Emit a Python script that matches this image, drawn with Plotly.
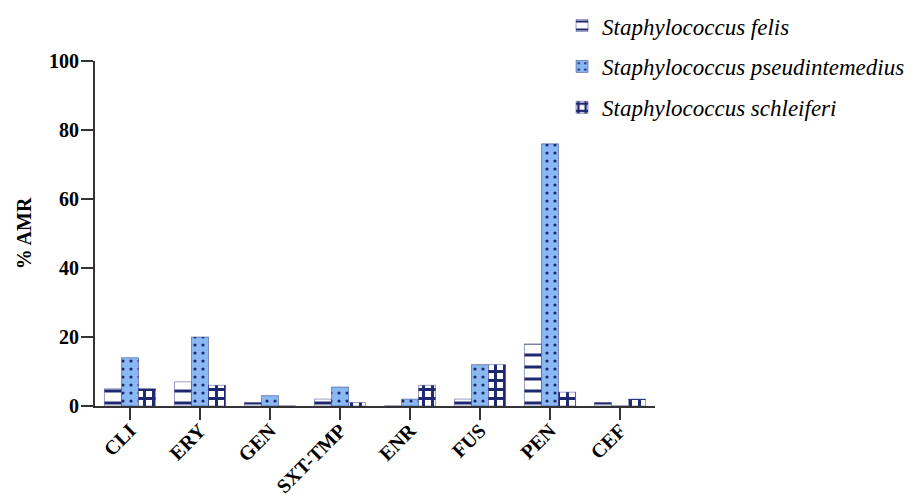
import plotly.graph_objects as go

categories = ["CLI", "ERY", "GEN", "SXT-TMP", "ENR", "FUS", "PEN", "CEF"]
felis = [5, 7, 1, 2, 0, 2, 18, 1]
pseudintermedius = [14, 20, 3, 5.5, 2, 12, 76, 0]
schleiferi = [5, 6, 0, 1, 6, 12, 4, 2]
series_names = ["Staphylococcus felis", "Staphylococcus pseudintemedius", "Staphylococcus schleiferi"]

NAVY = "#1e2870"
LIGHT = "#8ab8f2"
EDGE = "rgba(30,40,112,0.45)"
SERIF = "Liberation Serif"

fig = go.Figure()
fig.add_trace(go.Bar(
    x=categories, y=felis, name=series_names[0], legendgroup="a",
    marker=dict(color="white", line=dict(color=EDGE, width=1),
                pattern=dict(shape="-", fgcolor=NAVY, bgcolor="white", size=12, solidity=0.25, fillmode="replace")),
))
fig.add_trace(go.Bar(
    x=categories, y=pseudintermedius, name=series_names[1], legendgroup="b",
    marker=dict(color=LIGHT, line=dict(color=EDGE, width=1),
                pattern=dict(shape=".", fgcolor=NAVY, bgcolor=LIGHT, size=8, solidity=0.12, fillmode="replace")),
))
fig.add_trace(go.Bar(
    x=categories, y=schleiferi, name=series_names[2], legendgroup="c",
    marker=dict(color="white", line=dict(color=EDGE, width=1),
                pattern=dict(shape="+", fgcolor=NAVY, bgcolor="white", size=9, solidity=0.55, fillmode="replace")),
))

fig.update_layout(
    width=908, height=491,
    margin=dict(l=87, r=261, t=53, b=93, autoexpand=False),
    paper_bgcolor="white", plot_bgcolor="white",
    barmode="group", bargap=0.27, bargroupgap=0,
    font=dict(family=SERIF, color="black"),
    showlegend=True,
    legend=dict(
        x=0.834, y=1.165, xanchor="left", yanchor="top",
        font=dict(family=SERIF, size=23, style="italic", color="black"),
        tracegroupgap=8, traceorder="grouped",
        bgcolor="rgba(0,0,0,0)",
    ),
    xaxis=dict(
        range=[-0.5, 7.5], showline=True, linecolor="#333333", linewidth=2,
        ticks="outside", ticklen=12, tickwidth=2, tickcolor="#333333",
        tickangle=-45, tickfont=dict(family=SERIF, size=20, weight="bold"),
        ticklabelstandoff=-9,
        showgrid=False, zeroline=False,
    ),
    yaxis=dict(
        range=[0, 100], tickvals=[0, 20, 40, 60, 80, 100], showline=True, linecolor="#333333", linewidth=2,
        ticks="outside", ticklen=12, tickwidth=2, tickcolor="#333333",
        tickfont=dict(family=SERIF, size=20, weight="bold"),
        ticklabelstandoff=-2,
        title=dict(text="% AMR", font=dict(family=SERIF, size=20, weight="bold"), standoff=12),
        showgrid=False, zeroline=False,
    ),
)

fig.write_html("out.html")
